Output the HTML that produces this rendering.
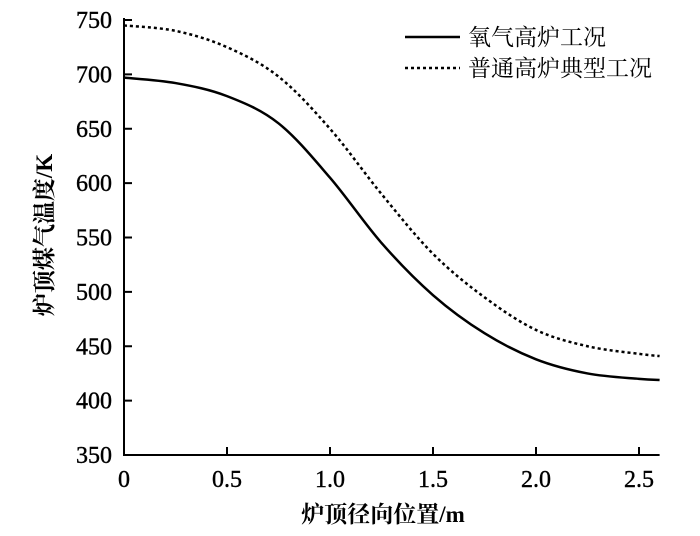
<!DOCTYPE html>
<html><head><meta charset="utf-8"><style>
body{margin:0;background:#fff}
svg text{font-family:"Liberation Serif","Noto Serif CJK SC",serif;fill:#000}
</style></head><body>
<svg id="c" width="700" height="531" xmlns="http://www.w3.org/2000/svg"></svg>
<script>
const xs=[0,0.25,0.5,0.75,1.0,1.25,1.5,1.75,2.0,2.25,2.5,2.6];
const oxygen=[697,692,680,655,605,545,497,462,438,425,420,419];
const typical=[745,740,725,698,650,590,535,495,465,450,443,441];
const xTicks=[0,0.5,1.0,1.5,2.0,2.5];
const xTickLabels=["0","0.5","1.0","1.5","2.0","2.5"];
const yTicks=[350,400,450,500,550,600,650,700,750];
const X0=124,X1=639,Y0=455,Y1=20;
const sx=v=>X0+(v/2.5)*(X1-X0);
const sy=v=>Y0-(v-350)/400*(Y0-Y1);
const svg=document.getElementById('c');
const NS="http://www.w3.org/2000/svg";
function mk(t,a,p){const e=document.createElementNS(NS,t);for(const k in a)e.setAttribute(k,a[k]);(p||svg).appendChild(e);return e;}
let ax=mk('path',{d:`M${X0},${Y1-2}V${Y0}H${sx(2.6)}`,stroke:'#000','stroke-width':2,fill:'none'});


xTicks.forEach((v,i)=>{
 const t=mk('line',{x1:sx(v),x2:sx(v),y1:Y0,y2:Y0-8,stroke:'#000','stroke-width':2});
 
 
 const l=mk('text',{x:sx(v),y:Y0+32,'text-anchor':'middle','font-size':24,'stroke':'#000','stroke-width':0.4});
 l.textContent=xTickLabels[i];
 
 
});
yTicks.forEach(v=>{
 const t=mk('line',{x1:X0,x2:X0+8,y1:sy(v),y2:sy(v),stroke:'#000','stroke-width':2});
 
 
 const l=mk('text',{x:X0-12,y:sy(v)+8,'text-anchor':'end','font-size':24,'stroke':'#000','stroke-width':0.4});
 l.textContent=v;
 
 
});
function curve(arr){
 const p=xs.map((x,i)=>[sx(x),sy(arr[i])]);
 let d=`M${p[0][0]},${p[0][1]}`;
 for(let i=0;i<p.length-1;i++){
  const p0=p[Math.max(0,i-1)],p1=p[i],p2=p[i+1],p3=p[Math.min(p.length-1,i+2)];
  d+=`C${p1[0]+(p2[0]-p0[0])/6},${p1[1]+(p2[1]-p0[1])/6} ${p2[0]-(p3[0]-p1[0])/6},${p2[1]-(p3[1]-p1[1])/6} ${p2[0]},${p2[1]}`;
 }
 return d;
}
let s1=mk('path',{d:curve(oxygen),stroke:'#000','stroke-width':2.5,fill:'none'});


let s2=mk('path',{d:curve(typical),stroke:'#000','stroke-width':2.5,fill:'none','stroke-dasharray':'3,3'});


let xt=mk('text',{x:383,y:522,'text-anchor':'middle','font-size':23,'font-weight':'bold'});
xt.textContent='炉顶径向位置/m';


let yt=mk('text',{x:0,y:0,'text-anchor':'middle','font-size':23,'font-weight':'bold',transform:'translate(52,235) rotate(-90)'});
yt.textContent='炉顶煤气温度/K';


let l1=mk('line',{x1:405,x2:460,y1:37,y2:37,stroke:'#000','stroke-width':2.5});


let t1=mk('text',{x:468,y:45,'font-size':23});
t1.textContent='氧气高炉工况';


let l2=mk('line',{x1:405,x2:460,y1:68,y2:68,stroke:'#000','stroke-width':2.5,'stroke-dasharray':'3,3'});


let t2=mk('text',{x:468,y:76,'font-size':23});
t2.textContent='普通高炉典型工况';


</script>
</body></html>
